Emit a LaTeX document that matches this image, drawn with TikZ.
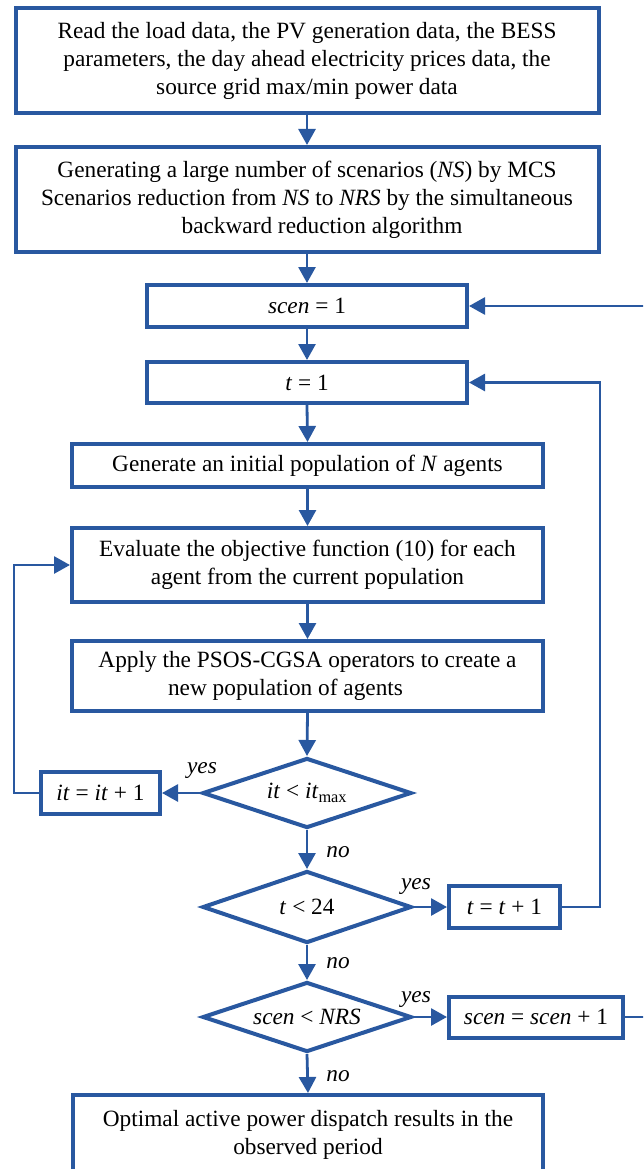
\documentclass[tikz,border=0pt]{standalone}
\usepackage{fontspec}
\setmainfont{Liberation Serif}
\usetikzlibrary{shapes.geometric,arrows.meta}
\definecolor{fcblue}{RGB}{41,88,160}
\begin{document}
\begin{tikzpicture}[x=1pt,y=-1pt,
  txt/.style={font=\fontsize{23.3}{28}\selectfont},
  box/.style={txt,draw=fcblue,line width=4pt,rectangle,inner sep=0pt,align=center},
  dec/.style={txt,draw=fcblue,line width=4pt,diamond,aspect=3,inner sep=0pt,align=center},
  conn/.style={draw=fcblue,line width=2.8pt,-{Triangle[length=16pt,width=17pt]}},
  plain/.style={draw=fcblue,line width=2.8pt},
  lab/.style={txt,font=\fontsize{23.3}{28}\selectfont\itshape,inner sep=0pt}]
\useasboundingbox (0,0) rectangle (643,1169);
\clip (0,0) rectangle (643,1169);

\node[box,minimum width=583,minimum height=105] (b1) at (307,60.5)
  {Read the load data, the PV generation data, the BESS\\parameters, the day ahead electricity prices data, the\\source grid max/min power data};
\node[box,minimum width=583,minimum height=105] (b2) at (307,199.5)
  {Generating a large number of scenarios (\textit{NS}) by MCS\\Scenarios reduction from \textit{NS} to \textit{NRS} by the simultaneous\\\hspace*{30pt}backward reduction algorithm};
\node[box,minimum width=320,minimum height=42] (s1) at (307,306) {\textit{scen} = 1};
\node[box,minimum width=320,minimum height=41] (t1) at (307,382.5) {\textit{t} = 1};
\node[box,minimum width=471,minimum height=43] (gen) at (307.5,465.5) {Generate an initial population of \textit{N} agents};
\node[box,minimum width=471,minimum height=74] (ev) at (307.5,565)
  {Evaluate the objective function (10) for each\\agent from the current population};
\node[box,minimum width=471,minimum height=70] (ap) at (307.5,676)
  {Apply the PSOS-CGSA operators to create a\\new population of agents\hspace*{44pt}};
\node[dec,minimum width=209,minimum height=70] (d1) at (307,793) {\textit{it} < \textit{it}\textsubscript{max}};
\node[box,minimum width=119,minimum height=42] (it) at (100.5,793) {\textit{it} = \textit{it} + 1};
\node[dec,minimum width=209,minimum height=72] (d2) at (307,907) {\textit{t} < 24};
\node[box,minimum width=111,minimum height=42] (tt) at (504.5,907) {\textit{t} = \textit{t} + 1};
\node[dec,minimum width=209,minimum height=70] (d3) at (307,1017) {\textit{scen} < \textit{NRS}};
\node[box,minimum width=174,minimum height=41] (sc) at (536,1017) {\textit{scen} = \textit{scen} + 1};
\node[box,minimum width=470,minimum height=80] (fin) at (308,1135)
  {Optimal active power dispatch results in the\\observed period};

\coordinate (outR) at (660,1017);
\coordinate (inR) at (660,306);

\draw[conn] (b1.south) -- (b2.north);
\draw[conn] (b2.south) -- (s1.north);
\draw[conn] (s1.south) -- (t1.north);
\draw[conn] (t1.south) -- (gen.north);
\draw[conn] (gen.south) -- (ev.north);
\draw[conn] (ev.south) -- (ap.north);
\draw[conn] (ap.south) -- (d1.north);
\draw[conn] (d1.west) -- (it.east);
\draw[conn] (it.west) -- ++(-25,0) |- (ev.west);
\draw[conn] (d1.south) -- (d2.north);
\draw[conn] (d2.east) -- (tt.west);
\draw[conn] (tt.east) -- ++(38,0) |- (t1.east);
\draw[conn] (d2.south) -- (d3.north);
\draw[conn] (d3.east) -- (sc.west);
\draw[plain] (sc.east) -- (outR);
\draw[conn] (inR) -- (s1.east);
\draw[conn] (d3.south) -- (fin.north);

\node[lab] (y1) at (202,771) {yes};
\node[lab] (n1) at (338,852) {no};
\node[lab] (y2) at (416,887) {yes};
\node[lab] (n2) at (338,963) {no};
\node[lab] (y3) at (416,1000) {yes};
\node[lab] (n3) at (338,1076) {no};
\end{tikzpicture}
\end{document}
